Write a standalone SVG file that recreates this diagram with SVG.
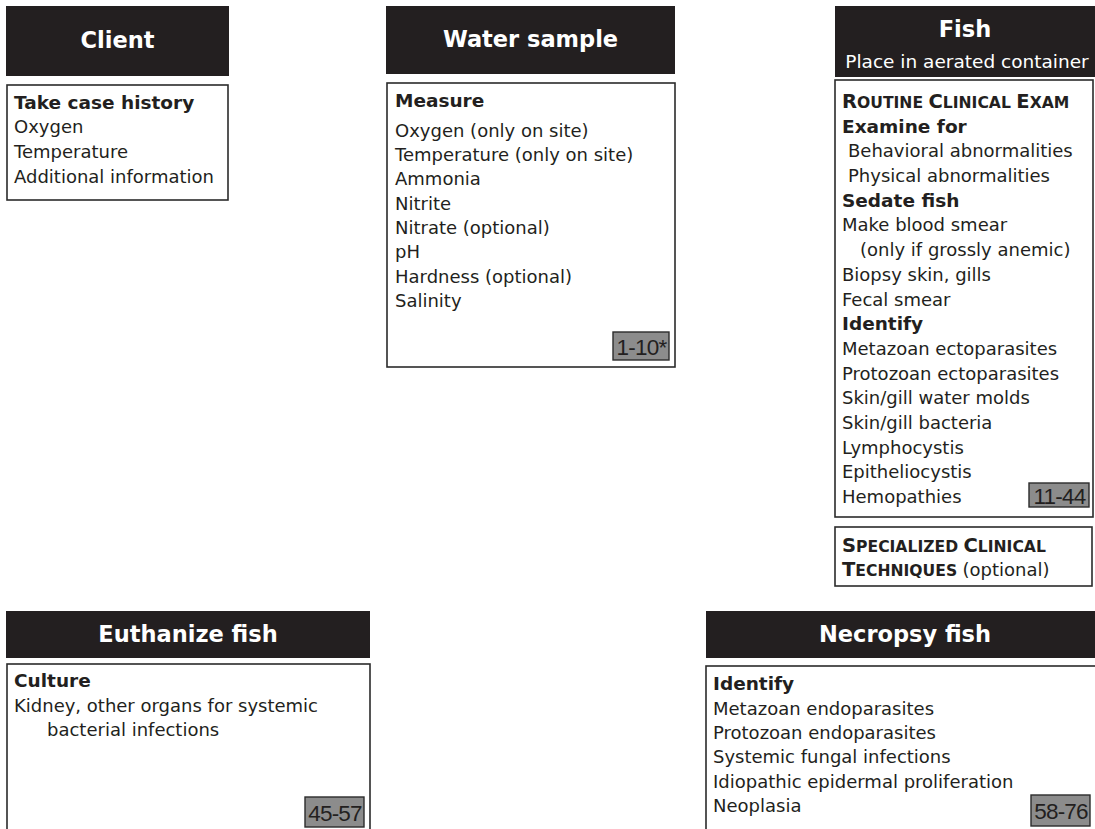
<svg xmlns="http://www.w3.org/2000/svg" width="1095" height="829" viewBox="0 0 1095 829">
<style>
.hdr{fill:#231f20}
.box{fill:#fff;stroke:#2b2b2b;stroke-width:1.6}
.tag{fill:#8c8c8c;stroke:#2b2b2b;stroke-width:1.4}
.ht{font-family:"DejaVu Sans",sans-serif;font-weight:bold;font-size:22.5px;fill:#fff;text-anchor:middle}
.hs{font-family:"DejaVu Sans",sans-serif;font-size:18.5px;fill:#fff;text-anchor:middle}
.t{font-family:"DejaVu Sans",sans-serif;font-size:18px;fill:#231f20}
.b{font-family:"DejaVu Sans",sans-serif;font-size:18.5px;font-weight:bold;fill:#231f20}
.tt{font-family:"Liberation Sans",sans-serif;font-size:22.5px;letter-spacing:-0.8px;fill:#231f20;text-anchor:middle}
.sc{font-family:"DejaVu Sans",sans-serif;font-weight:bold;fill:#231f20;font-size:15.6px}
.big{font-size:19.5px}
</style>
<rect width="1095" height="829" fill="#fff"/>
<g id="connectors"></g>
<g id="client">
<rect class="hdr" x="6" y="6" width="223" height="70"/>
<text class="ht" x="117.5" y="48">Client</text>
<rect class="box" x="7" y="85" width="221" height="115"/>
<text class="b" x="14" y="109">Take case history</text>
<text class="t" x="14" y="133">Oxygen</text>
<text class="t" x="14" y="158">Temperature</text>
<text class="t" x="14" y="183">Additional information</text>
</g>
<g id="water">
<rect class="hdr" x="386" y="6" width="289" height="68"/>
<text class="ht" x="530.5" y="47">Water sample</text>
<rect class="box" x="387" y="83" width="288" height="284"/>
<text class="b" x="395" y="107">Measure</text>
<text class="t" x="395" y="137">Oxygen (only on site)</text>
<text class="t" x="395" y="161">Temperature (only on site)</text>
<text class="t" x="395" y="185">Ammonia</text>
<text class="t" x="395" y="210">Nitrite</text>
<text class="t" x="395" y="234">Nitrate (optional)</text>
<text class="t" x="395" y="258">pH</text>
<text class="t" x="395" y="283">Hardness (optional)</text>
<text class="t" x="395" y="307">Salinity</text>
<rect class="tag" x="613" y="332" width="56" height="28"/>
<text class="tt" x="641.5" y="355">1-10*</text>
</g>
<g id="fish">
<rect class="hdr" x="835" y="6" width="262" height="71"/>
<text class="ht" x="965" y="37">Fish</text>
<text class="hs" x="967" y="68">Place in aerated container</text>
<rect class="box" x="835" y="80" width="258" height="437"/>
<text class="sc" x="842" y="108"><tspan class="big">R</tspan>OUTINE <tspan class="big">C</tspan>LINICAL <tspan class="big">E</tspan>XAM</text>
<text class="b" x="842" y="133">Examine for</text>
<text class="t" x="848" y="157">Behavioral abnormalities</text>
<text class="t" x="848" y="182">Physical abnormalities</text>
<text class="b" x="842" y="207">Sedate fish</text>
<text class="t" x="842" y="231">Make blood smear</text>
<text class="t" x="860" y="256">(only if grossly anemic)</text>
<text class="t" x="842" y="281">Biopsy skin, gills</text>
<text class="t" x="842" y="306">Fecal smear</text>
<text class="b" x="842" y="330">Identify</text>
<text class="t" x="842" y="355">Metazoan ectoparasites</text>
<text class="t" x="842" y="380">Protozoan ectoparasites</text>
<text class="t" x="842" y="404">Skin/gill water molds</text>
<text class="t" x="842" y="429">Skin/gill bacteria</text>
<text class="t" x="842" y="454">Lymphocystis</text>
<text class="t" x="842" y="478">Epitheliocystis</text>
<text class="t" x="842" y="503">Hemopathies</text>
<rect class="tag" x="1029" y="483" width="60" height="24"/>
<text class="tt" x="1059.5" y="504">11-44</text>
</g>
<g id="specialized">
<rect class="box" x="835" y="527" width="257" height="59"/>
<text class="sc" x="842" y="552"><tspan class="big">S</tspan>PECIALIZED <tspan class="big">C</tspan>LINICAL</text>
<text class="sc" x="842" y="576"><tspan class="big">T</tspan>ECHNIQUES <tspan class="t" style="font-weight:normal">(optional)</tspan></text>
</g>
<g id="euthanize">
<rect class="hdr" x="6" y="611" width="364" height="47"/>
<text class="ht" x="188" y="642">Euthanize fish</text>
<rect class="box" x="7" y="664" width="363" height="180"/>
<text class="b" x="14" y="687">Culture</text>
<text class="t" x="14" y="712">Kidney, other organs for systemic</text>
<text class="t" x="47" y="736">bacterial infections</text>
<rect class="tag" x="305" y="797" width="59" height="30"/>
<text class="tt" x="335" y="821">45-57</text>
</g>
<g id="necropsy">
<rect class="hdr" x="706" y="611" width="400" height="47"/>
<text class="ht" x="905" y="642">Necropsy fish</text>
<rect class="box" x="706" y="666" width="400" height="180"/>
<text class="b" x="713" y="690">Identify</text>
<text class="t" x="713" y="715">Metazoan endoparasites</text>
<text class="t" x="713" y="739">Protozoan endoparasites</text>
<text class="t" x="713" y="763">Systemic fungal infections</text>
<text class="t" x="713" y="788">Idiopathic epidermal proliferation</text>
<text class="t" x="713" y="812">Neoplasia</text>
<rect class="tag" x="1031" y="795" width="59" height="31"/>
<text class="tt" x="1061" y="819">58-76</text>
</g>
</svg>
